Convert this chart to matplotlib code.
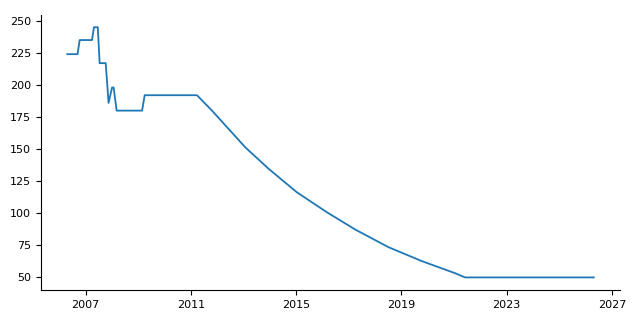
import matplotlib
matplotlib.use("Agg")
import matplotlib.pyplot as plt
import matplotlib.dates as mdates
import pandas as pd

dates = [
    "2006-04-23", "2006-09-12", "2006-10-12", "2007-04-01", "2007-04-28",
    "2007-06-20", "2007-07-16", "2007-10-08", "2007-11-17", "2008-01-04",
    "2008-01-26", "2008-03-08", "2009-02-24", "2009-04-01", "2011-03-28",
    "2011-10-22", "2012-06-09", "2013-01-26", "2013-12-17", "2015-01-11",
    "2016-03-03", "2017-04-01", "2018-07-05", "2019-10-12", "2021-01-15",
    "2021-06-03", "2026-04-25",
]
values = [
    224, 224, 235, 235, 245,
    245, 217, 217, 186, 198,
    198, 180, 180, 192, 192,
    180, 165.7, 151.4, 134.6, 116.4,
    100.8, 87.3, 73.6, 62.7, 53.3,
    50, 50,
]
xtick_years = [2007, 2011, 2015, 2019, 2023, 2027]

x = pd.to_datetime(dates)

fig = plt.figure(figsize=(6.4, 3.2), dpi=100)
ax = fig.add_axes([0.064, 0.094, 0.905, 0.86])
ax.plot(x, values, color="#1f77b4", linewidth=1.3)

ax.set_xticks([pd.Timestamp(f"{y}-01-01") for y in xtick_years])
ax.xaxis.set_major_formatter(mdates.DateFormatter("%Y"))
ax.set_yticks([50, 75, 100, 125, 150, 175, 200, 225, 250])
ax.tick_params(labelsize=8)
ax.spines["top"].set_visible(False)
ax.spines["right"].set_visible(False)

fig.savefig("out.png", dpi=100)
